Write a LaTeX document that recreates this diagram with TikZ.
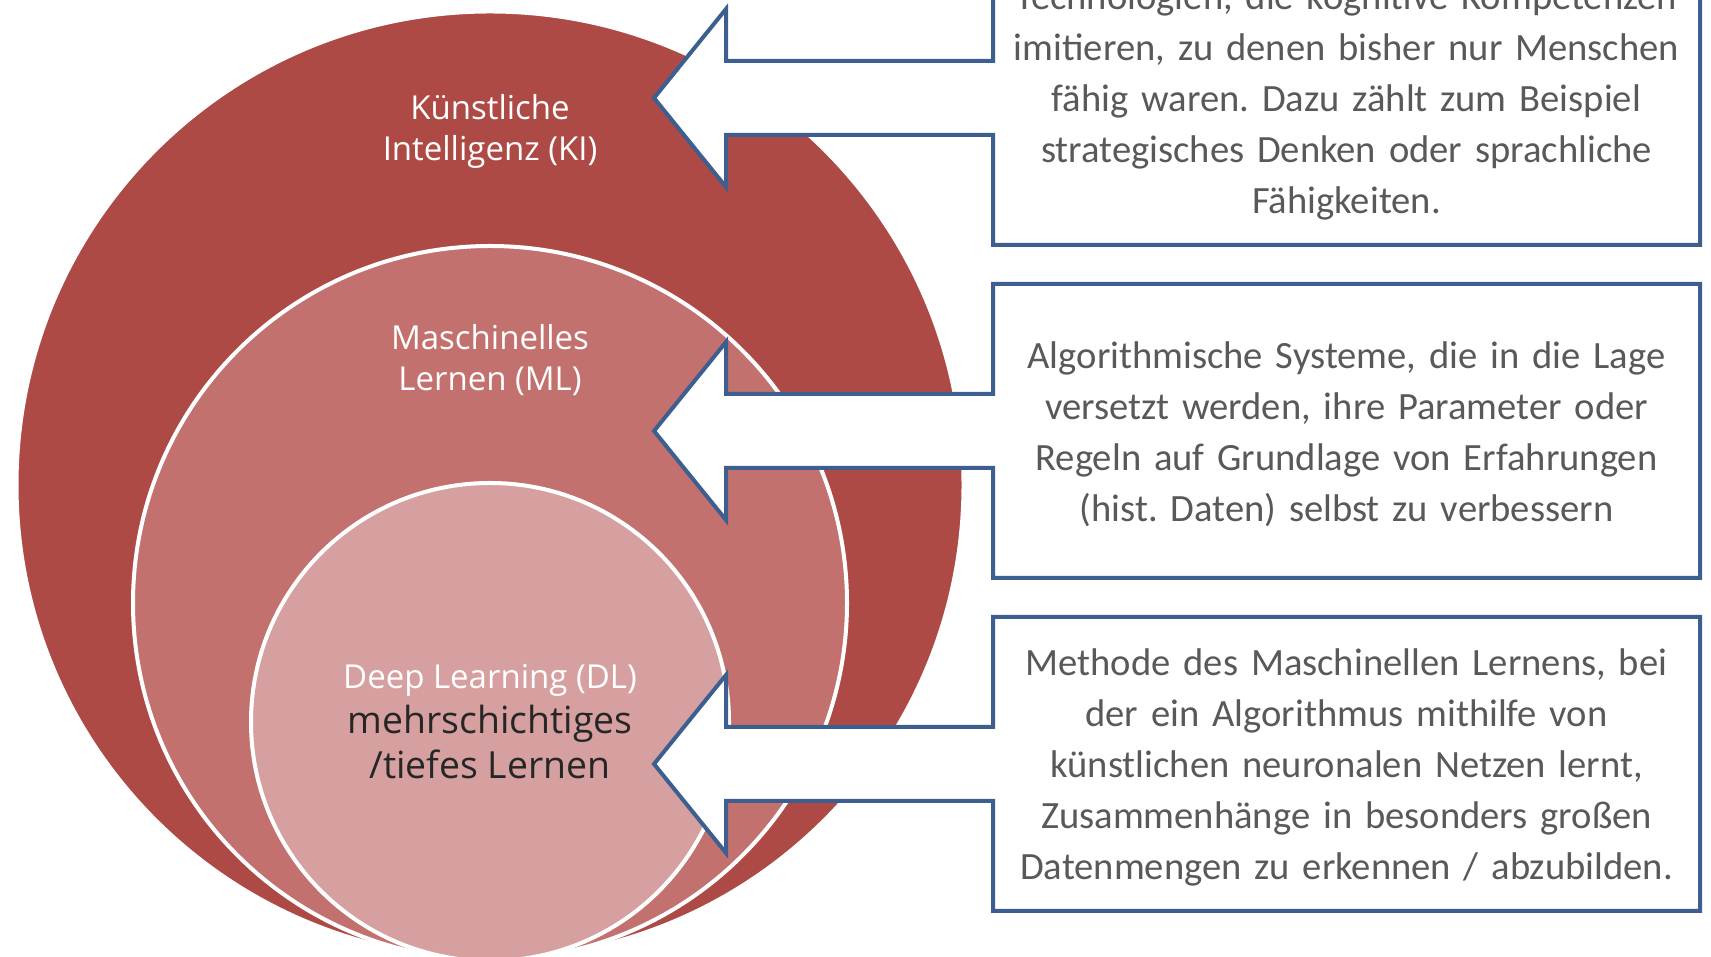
\documentclass[tikz,border=0pt]{standalone}
\usepackage{fontspec}
\setmainfont{Carlito}[WordSpace=0.8]
\newfontfamily\circfont{Open Sans}
\usepackage{xcolor}
\usepackage{tikz}
\usetikzlibrary{positioning}
\definecolor{kired}{HTML}{AE4A46}
\definecolor{mlred}{HTML}{C3716E}
\definecolor{dlred}{HTML}{D6A0A0}
\definecolor{calloutblue}{HTML}{3C5F8F}
\definecolor{boxgrey}{HTML}{595959}
\tikzstyle{ring} = [circle, inner sep=0pt, draw=white, line width=2pt]
\tikzstyle{circlabel} = [text=white, align=center,
font=\circfont\fontsize{16.5}{20.5}\selectfont]
\tikzstyle{callout} = [draw=calloutblue, fill=white, line width=2pt, line join=miter]
\tikzstyle{boxtext} = [text=boxgrey, align=center, text width=340pt,
font=\frenchspacing\fontsize{19.3}{25.5}\selectfont]

\begin{document}
\begin{tikzpicture}[x=0.5pt, y=0.5pt]
\useasboundingbox (0,0) rectangle (1711,957);

% the three nested circles
\node (ki) [ring, fill=kired, minimum size=473.5pt] at (490,472) {};
\node (ml) [ring, fill=mlred, minimum size=357pt] at (490,354) {};
\node (dl) [ring, fill=dlred, minimum size=239pt] at (490,235) {};

\node (kilabel) [circlabel] at (490,826) {K\"unstliche\\Intelligenz (KI)};
\node (mllabel) [circlabel] at (490,597) {Maschinelles\\Lernen (ML)};
\node (dllabel) [circlabel] at (490,277) {Deep Learning (DL)};
\node (dlsub) [circlabel, text=black!85, font=\circfont\fontsize{18.7}{22.4}\selectfont]
at (490,215) {mehrschichtiges\\/tiefes Lernen};

% cut-off text at the left edge
\node (leftparen) [text=boxgrey, anchor=east, font=\circfont\fontsize{20}{24}\selectfont]
at (8,509) {)};

% callouts
\coordinate (kiC) at (1346.5,859);
\coordinate (mlC) at (1346.5,526);
\coordinate (dlC) at (1346.5,193);

\draw [callout] (kiC) ++(-353.5,37) -- ++(-267,0) -- ++(0,52) -- ++(-72,-89)
-- ++(72,-89) -- ++(0,52) -- ++(267,0) -- ++(0,-110) -- ++(707,0)
-- ++(0,294) -- ++(-707,0) -- cycle;
\draw [callout] (mlC) ++(-353.5,37) -- ++(-267,0) -- ++(0,52) -- ++(-72,-89)
-- ++(72,-89) -- ++(0,52) -- ++(267,0) -- ++(0,-110) -- ++(707,0)
-- ++(0,294) -- ++(-707,0) -- cycle;
\draw [callout] (dlC) ++(-353.5,37) -- ++(-267,0) -- ++(0,52) -- ++(-72,-89)
-- ++(72,-89) -- ++(0,52) -- ++(267,0) -- ++(0,-110) -- ++(707,0)
-- ++(0,294) -- ++(-707,0) -- cycle;

\node (kitext) [boxtext] at ([yshift=-1.5]kiC) {Technologien, die kognitive Kompetenzen\\
imitieren, zu denen bisher nur Menschen\\
f\"ahig waren. Dazu z\"ahlt zum Beispiel\\
strategisches Denken oder sprachliche\\
F\"ahigkeiten.};
\node (mltext) [boxtext] at ([yshift=-1.5]mlC) {Algorithmische Systeme, die in die Lage\\
versetzt werden, ihre Parameter oder\\
Regeln auf Grundlage von Erfahrungen\\
(hist. Daten) selbst zu verbessern};
\node (dltext) [boxtext] at ([yshift=-1.5]dlC) {Methode des Maschinellen Lernens, bei\\
der ein Algorithmus mithilfe von\\
k\"unstlichen neuronalen Netzen lernt,\\
Zusammenh\"ange in besonders gro\ss en\\
Datenmengen zu erkennen / abzubilden.};

\end{tikzpicture}
\end{document}
